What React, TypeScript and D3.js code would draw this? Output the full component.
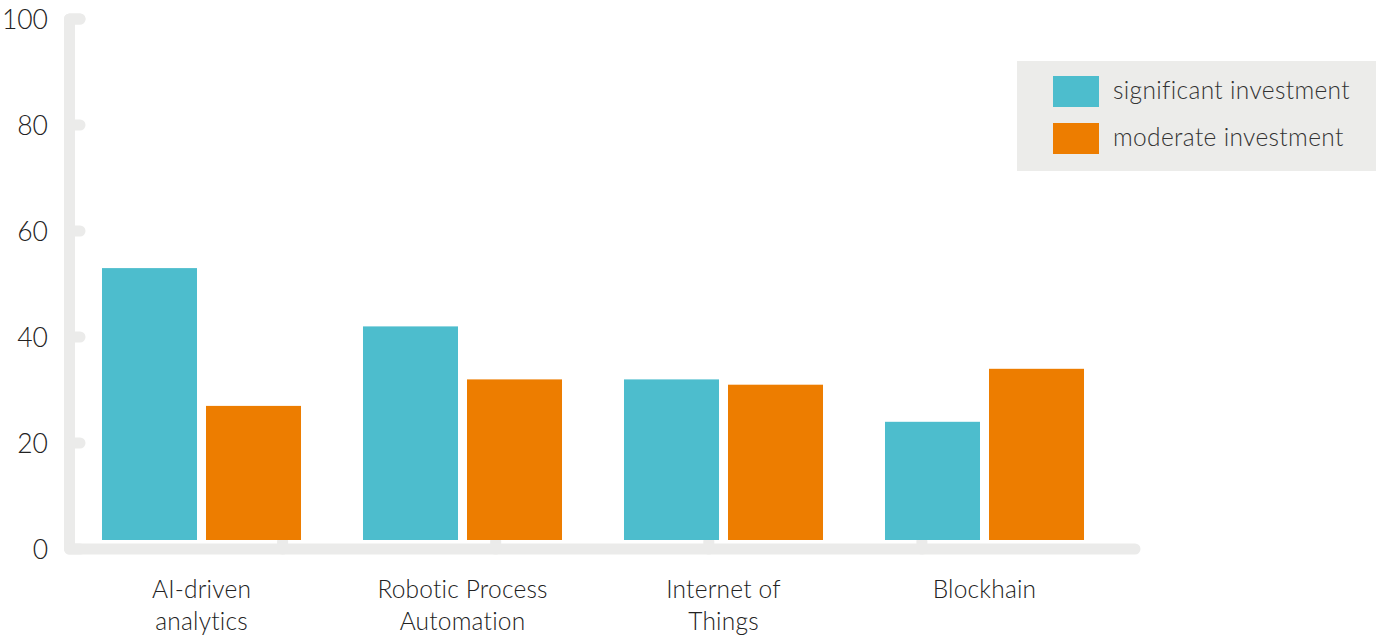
import React, { useEffect, useRef } from "react";
import * as d3 from "d3";

const categories = ["AI-driven analytics", "Robotic Process Automation", "Internet of Things", "Blockhain"];
const categoryLines = [["AI-driven", "analytics"], ["Robotic Process", "Automation"], ["Internet of", "Things"], ["Blockhain"]];
const seriesNames = ["significant investment", "moderate investment"];
const significant = [53, 42, 32, 24];
const moderate = [27, 32, 31, 34];
const yTicks = [0, 20, 40, 60, 80, 100];
const colors = ["#4dbdcd", "#ed7d00"];

export default function App() {
  const ref = useRef<SVGSVGElement>(null);
  useEffect(() => {
    const svg = d3.select(ref.current);
    svg.selectAll("*").remove();
    const font = "Lato, 'Source Sans Pro', sans-serif";
    const y = d3.scaleLinear().domain([0, 100]).range([549, 19]);
    const x0 = d3.scaleBand<string>().domain(categories).range([71, 1115]).paddingInner(0.2375).paddingOuter(0.11875);
    const x1 = d3.scaleBand<string>().domain(seriesNames).range([0, x0.bandwidth()]).paddingInner(9 / 104);
    const axisColor = "#ebebea";
    const g = svg.append("g");
    g.append("path")
      .attr("d", `M 80 ${y(100)} H 69.5 V ${y(0)} H 1135`)
      .attr("fill", "none").attr("stroke", axisColor).attr("stroke-width", 11)
      .attr("stroke-linejoin", "round").attr("stroke-linecap", "round");
    yTicks.forEach((t) => {
      g.append("line").attr("x1", 69.5).attr("x2", 80).attr("y1", y(t)).attr("y2", y(t))
        .attr("stroke", axisColor).attr("stroke-width", 11).attr("stroke-linecap", "round");
      g.append("text").attr("x", 48).attr("y", y(t) + 10).attr("text-anchor", "end")
        .attr("font-family", font).attr("font-size", 26.5).attr("font-weight", 300).attr("fill", "#222").text(t);
    });
    const xt = d3.range(1, 5).map((k) => 69.5 + k * (1135 - 69.5) / 5);
    xt.forEach((xx) => {
      g.append("line").attr("x1", xx).attr("x2", xx).attr("y1", y(0)).attr("y2", y(0) - 8)
        .attr("stroke", axisColor).attr("stroke-width", 11).attr("stroke-linecap", "round");
    });
    const base = 540;
    categories.forEach((c, i) => {
      const vals = [significant[i], moderate[i]];
      vals.forEach((v, j) => {
        g.append("rect").attr("x", x0(c)! + x1(seriesNames[j])!).attr("y", y(v))
          .attr("width", x1.bandwidth()).attr("height", base - y(v)).attr("fill", colors[j]);
      });
      const cx = x0(c)! + x0.bandwidth() / 2;
      categoryLines[i].forEach((ln, k) => {
        g.append("text").attr("x", cx).attr("y", 598 + k * 32).attr("text-anchor", "middle")
          .attr("font-family", font).attr("font-size", 24.5).attr("font-weight", 300)
          .attr("letter-spacing", 0.2).attr("fill", "#222").text(ln);
      });
    });
    const lg = svg.append("g");
    lg.append("rect").attr("x", 1017).attr("y", 61).attr("width", 359).attr("height", 110).attr("fill", "#ececea");
    seriesNames.forEach((s, j) => {
      lg.append("rect").attr("x", 1053).attr("y", 76 + j * 47).attr("width", 46).attr("height", 31).attr("fill", colors[j]);
      lg.append("text").attr("x", 1113).attr("y", 99 + j * 47).attr("font-family", font).attr("font-size", 24.5)
        .attr("font-weight", 300).attr("letter-spacing", 0.35).attr("fill", "#333").text(s);
    });
  }, []);
  return (
    <svg ref={ref} width={1376} height={637} style={{ position: "absolute", left: 0, top: 0 }} />
  );
}
